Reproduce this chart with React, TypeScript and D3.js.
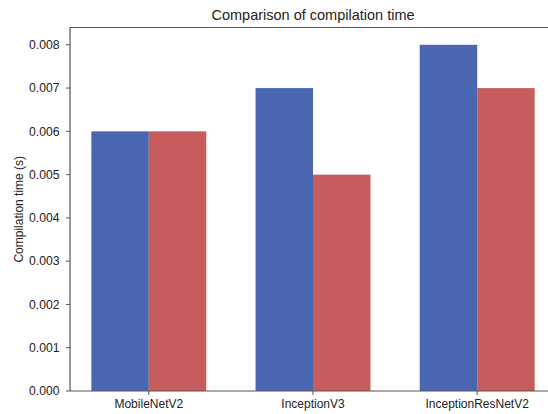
import React from "react";
import * as d3 from "d3";

const categories = ["MobileNetV2", "InceptionV3", "InceptionResNetV2"];
const seriesA = [0.006, 0.007, 0.008];
const seriesB = [0.006, 0.005, 0.007];
const yTicks = [0, 0.001, 0.002, 0.003, 0.004, 0.005, 0.006, 0.007, 0.008];

export default function App() {
  const W = 548, H = 414;
  const left = 70, right = 556, top = 27.5, bottom = 391;
  const x = d3.scaleLinear().domain([-0.48, 2.48]).range([left, right]);
  const y = d3.scaleLinear().domain([0, 0.0084]).range([bottom, top]);
  const bw = 0.35;
  const font = "Liberation Sans, Arial, sans-serif";
  return (
    <svg width={W} height={H} style={{ position: "absolute", left: 0, top: 0 }} fontFamily={font}>
      <rect width={W} height={H} fill="#fff" />
      {categories.map((c, i) => (
        <g key={c}>
          <rect x={x(i - bw)} y={y(seriesA[i])} width={x(i) - x(i - bw)} height={bottom - y(seriesA[i])} fill="#4b66b0" />
          <rect x={x(i)} y={y(seriesB[i])} width={x(i + bw) - x(i)} height={bottom - y(seriesB[i])} fill="#c65d5c" />
        </g>
      ))}
      <line x1={left} x2={right} y1={top} y2={top} stroke="#555" strokeWidth={1.2} />
      <line x1={left} x2={left} y1={top} y2={bottom} stroke="#555" strokeWidth={1.2} />
      <line x1={left} x2={right} y1={bottom} y2={bottom} stroke="#555" strokeWidth={1.2} />
      {yTicks.map((t) => (
        <g key={t}>
          <line x1={left - 4} x2={left} y1={y(t)} y2={y(t)} stroke="#555" />
          <text x={left - 10.5} y={y(t)} dy="0.35em" textAnchor="end" fontSize={12.2} fill="#222">{t.toFixed(3)}</text>
        </g>
      ))}
      {categories.map((c, i) => (
        <g key={c}>
          <line x1={x(i)} x2={x(i)} y1={bottom} y2={bottom + 4} stroke="#555" />
          <text x={x(i)} y={407.5} textAnchor="middle" fontSize={12} fill="#222">{c}</text>
        </g>
      ))}
      <text transform={`translate(19,${(top + bottom) / 2}) rotate(-90)`} textAnchor="middle" dy="0.35em" fontSize={12} fill="#222">Compilation time (s)</text>
      <text x={313} y={15} dy="0.35em" textAnchor="middle" fontSize={14.5} fill="#222">Comparison of compilation time</text>
    </svg>
  );
}
